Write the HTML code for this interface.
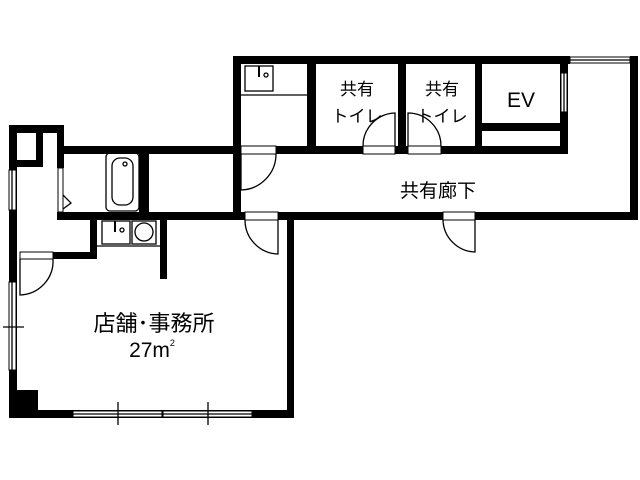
<!DOCTYPE html>
<html><head><meta charset="utf-8"><style>
html,body{margin:0;padding:0;background:#fff;}
svg{display:block;}
text{font-family:"Liberation Sans","Noto Sans CJK JP",sans-serif;fill:#000;}
</style></head><body>
<svg width="640" height="480" viewBox="0 0 640 480" xmlns="http://www.w3.org/2000/svg">
<rect width="640" height="480" fill="#fff"/>
<g fill="#000">
<rect x="233" y="56" width="337" height="8"/>
<rect x="233" y="56" width="8" height="98"/>
<rect x="307" y="56" width="9" height="98"/>
<rect x="398" y="56" width="8" height="98"/>
<rect x="475" y="56" width="7" height="98"/>
<rect x="560" y="56" width="8" height="98"/>
<rect x="482" y="123" width="78" height="8"/>
<rect x="630" y="56" width="8" height="164"/>
<rect x="64" y="146" width="504" height="8"/>
<rect x="57" y="212" width="581" height="8"/>
<rect x="233" y="154" width="8" height="66"/>
<rect x="9" y="125" width="55" height="8"/>
<rect x="9" y="125" width="8" height="293"/>
<rect x="9" y="160" width="34" height="7"/>
<rect x="36" y="133" width="7" height="30"/>
<rect x="57" y="125" width="7" height="43"/>
<rect x="139" y="154" width="10" height="58"/>
<rect x="90" y="220" width="7" height="39"/>
<rect x="53" y="252" width="44" height="7"/>
<rect x="160" y="220" width="7" height="59"/>
<rect x="287" y="220" width="7" height="198"/>
<rect x="9" y="390" width="29" height="28"/>
<rect x="9" y="410" width="285" height="8"/>
</g>
<g fill="#fff" stroke="#000" stroke-width="1">
<rect x="241" y="146" width="35" height="8"/>
<rect x="245" y="212" width="33" height="8"/>
<rect x="443" y="212" width="32" height="8"/>
<rect x="363" y="146" width="32" height="8"/>
<rect x="408" y="146" width="33" height="8"/>
<rect x="20" y="252" width="33" height="7"/>
<rect x="570" y="57" width="60" height="6"/>
<rect x="561" y="73" width="6" height="39"/>
<rect x="9" y="170" width="7" height="40"/>
<rect x="9" y="282" width="7" height="88"/>
<rect x="73" y="411" width="89" height="6"/>
<rect x="163" y="411" width="89" height="6"/>
<rect x="58" y="168" width="5" height="44"/>
</g>
<g fill="none" stroke="#000" stroke-width="1.3">
<line x1="570" y1="60" x2="630" y2="60"/>
<line x1="564" y1="73" x2="564" y2="112"/>
<line x1="12" y1="170" x2="12" y2="210"/>
<line x1="12" y1="282" x2="12" y2="370"/>
<line x1="3" y1="327" x2="24" y2="327"/>
<line x1="73" y1="414" x2="252" y2="414"/>
<line x1="118" y1="402" x2="118" y2="425"/>
<line x1="208" y1="402" x2="208" y2="425"/>
<polyline points="63,195 71,203 63,209"/>
<path d="M241,154 L241,190 A36,36 0 0 0 276,154"/>
<path d="M245,220 A34,34 0 0 0 278,254 L278,220"/>
<path d="M443,220 A33,33 0 0 0 475,252 L475,220"/>
<path d="M363,146 A33,33 0 0 1 395,113 L395,146"/>
<path d="M408,146 L408,113 A33,33 0 0 1 441,146"/>
<path d="M20,259 L20,295 A34,34 0 0 0 53,259"/>
<rect x="106" y="153" width="33" height="58" rx="4"/>
<rect x="112" y="158" width="21" height="47" rx="8"/>
<circle cx="125" cy="164" r="2"/>
<rect x="102" y="221" width="28" height="23"/>
<line x1="115" y1="221" x2="115" y2="232" stroke-width="2"/>
<circle cx="122" cy="230" r="2"/>
<rect x="132" y="221" width="24" height="23"/>
<circle cx="144" cy="232" r="9"/>
<line x1="97" y1="246" x2="160" y2="246"/>
<rect x="245" y="66" width="28" height="25"/>
<line x1="259" y1="66" x2="259" y2="77" stroke-width="2"/>
<circle cx="266" cy="75" r="2"/>
<line x1="241" y1="95" x2="307" y2="95"/>
</g>
<text x="357" y="95" font-size="17" text-anchor="middle">共有</text>
<text x="357" y="122" font-size="17" text-anchor="middle">トイレ</text>
<text x="442" y="95" font-size="17" text-anchor="middle">共有</text>
<text x="442" y="122" font-size="17" text-anchor="middle">トイレ</text>
<text x="521" y="107" font-size="21" text-anchor="middle">EV</text>
<text x="438" y="197" font-size="19" text-anchor="middle">共有廊下</text>
<text x="154" y="331" font-size="22" text-anchor="middle">店舗･事務所</text>
<text x="152" y="357" font-size="21" text-anchor="middle">27m<tspan font-size="9" dy="-11">2</tspan></text>
</svg>
</body></html>
